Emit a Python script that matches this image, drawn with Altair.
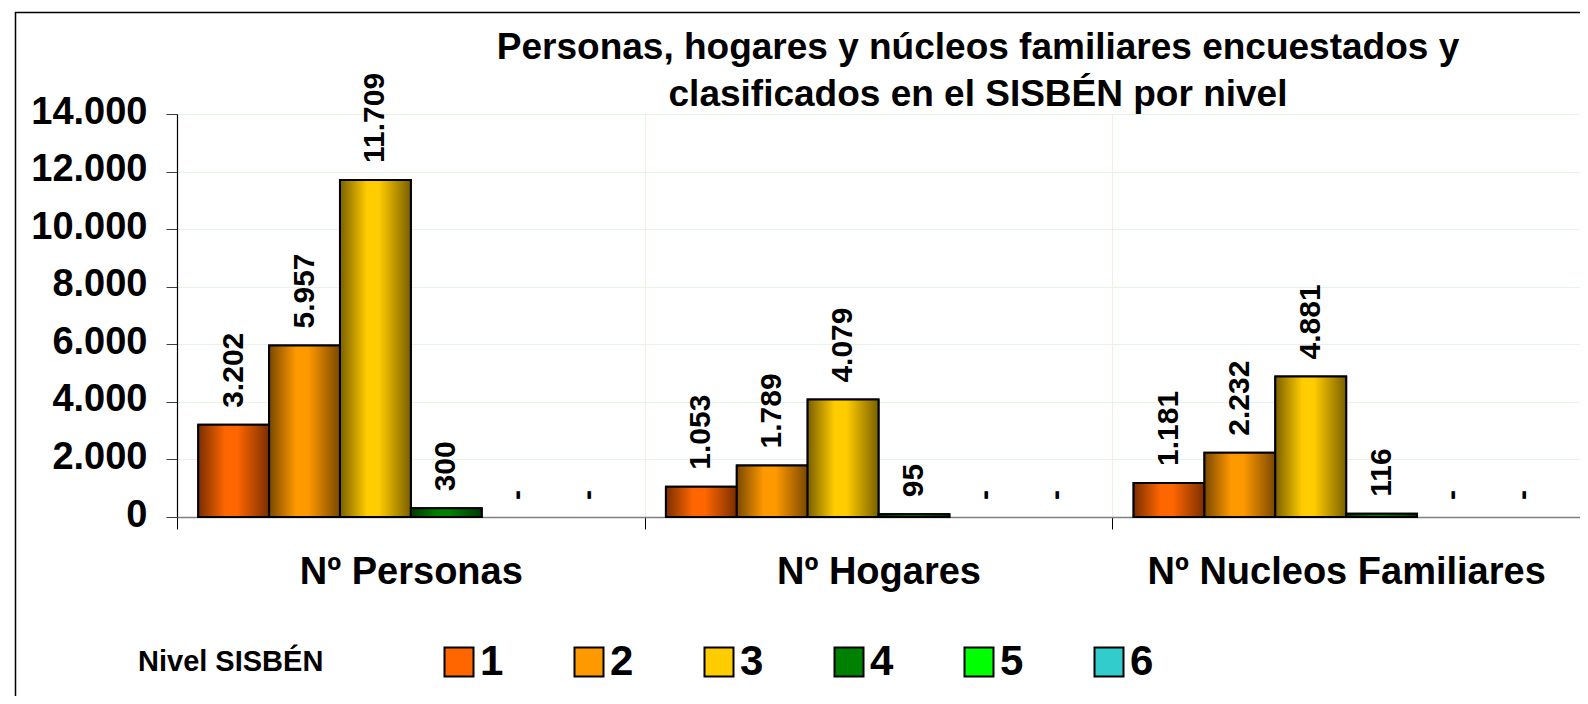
import altair as alt
import pandas as pd

# ---- data ----
categorias = ["Nº Personas", "Nº Hogares", "Nº Nucleos Familiares"]
niveles = ["1", "2", "3", "4", "5", "6"]
personas = [3202, 5957, 11709, 300, 0, 0]
hogares = [1053, 1789, 4079, 95, 0, 0]
nucleos = [1181, 2232, 4881, 116, 0, 0]
y_ticks = [0, 2000, 4000, 6000, 8000, 10000, 12000, 14000]

colores = ["#FF6600", "#FF9900", "#FFCC00", "#008000", "#00FF00", "#33CCCC"]
oscuros = ["#7A2E00", "#7A4800", "#7A6000", "#003A00", "#007A00", "#186060"]

titulo = "Personas, hogares y núcleos familiares encuestados y\nclasificados en el SISBÉN por nivel"

rows = []
for cat, serie in zip(categorias, [personas, hogares, nucleos]):
    for niv, v in zip(niveles, serie):
        rows.append({"categoria": cat, "nivel": niv, "valor": v})
df = pd.DataFrame(rows)

FONT = "Liberation Sans"
W, H = 1403, 403

x_enc = alt.X(
    "categoria:N", sort=categorias,
    scale=alt.Scale(domain=categorias, paddingInner=0, paddingOuter=0),
    axis=alt.Axis(title=None, labelAngle=0, tickBand="extent", labelLimit=0,
                  labelFontSize=38, labelFontWeight="bold", labelColor="black",
                  labelFont=FONT, labelPadding=24, tickSize=12, tickColor="black",
                  domainColor="#808080", domainWidth=1.5,
                  grid=True, gridColor="#E6F4E6", gridWidth=1),
)
xo_enc = alt.XOffset("nivel:N", sort=niveles,
                     scale=alt.Scale(domain=niveles, paddingInner=0, paddingOuter=0.3))
y_enc = alt.Y(
    "valor:Q",
    scale=alt.Scale(domain=[0, 14000], nice=False),
    axis=alt.Axis(title=None, values=y_ticks,
                  labelExpr="replace(format(datum.value, ','), ',', '.')",
                  labelFontSize=38, labelFontWeight="bold", labelColor="black",
                  labelFont=FONT, labelPadding=19, labelOffset=-2,
                  tickSize=11, tickColor="#404040", domainColor="black",
                  domainWidth=1.2, grid=True, gridColor="#E6F4E6", gridWidth=1),
)

base = alt.Chart(df)

solid = base.transform_filter("datum.valor > 0").mark_bar(
    stroke="black", strokeWidth=2, opacity=1
).encode(
    x=x_enc, xOffset=xo_enc, y=y_enc,
    color=alt.Color(
        "nivel:N", sort=niveles,
        scale=alt.Scale(domain=niveles, range=colores),
        legend=alt.Legend(
            title="Nivel SISBÉN", orient="none", legendX=-39, legendY=527,
            direction="horizontal", titleOrient="left", titleLimit=0,
            titleFont=FONT, titleFontSize=29, titleFontWeight="bold",
            titleColor="black", titlePadding=114,
            titleAnchor="middle", titleBaseline="middle",
            labelFont=FONT, labelFontSize=42, labelFontWeight="bold",
            labelColor="black", labelOffset=0,
            symbolType="square", symbolSize=841, symbolStrokeColor="black",
            symbolStrokeWidth=2, symbolOpacity=1, columnPadding=64, padding=0,
        ),
    ),
)

layers = [solid]
for niv, c, d in zip(niveles, colores, oscuros):
    grad = alt.Gradient(
        gradient="linear",
        stops=[alt.GradientStop(color=d, offset=0),
               alt.GradientStop(color=c, offset=0.38),
               alt.GradientStop(color=c, offset=0.55),
               alt.GradientStop(color=d, offset=1)],
        x1=0, x2=1, y1=0, y2=0,
    )
    layers.append(
        base.transform_filter(f"datum.nivel == '{niv}' && datum.valor > 0")
        .mark_bar(fill=grad, stroke="black", strokeWidth=2)
        .encode(x=x_enc, xOffset=xo_enc, y=y_enc)
    )

labels = base.transform_calculate(
    etiqueta="datum.valor == 0 ? '-' : replace(format(datum.valor, ','), ',', '.')"
).mark_text(
    angle=270, align="left", baseline="middle", dx=17,
    font=FONT, fontSize=30, fontWeight="bold", color="black",
).encode(x=x_enc, xOffset=xo_enc, y=y_enc, text="etiqueta:N")
layers.append(labels)

deco = alt.Chart(pd.DataFrame({"t": [titulo]}))

border = deco.mark_rect(
    fillOpacity=0, stroke="black", strokeWidth=1.5
).encode(
    x=alt.value(-161.5), x2=alt.value(W + 200),
    y=alt.value(-101.5), y2=alt.value(H + 400),
)
layers.append(border)

title_mark = deco.mark_text(
    font=FONT, fontSize=37, fontWeight="bold", color="black",
    align="center", baseline="alphabetic", lineBreak="\n", lineHeight=47,
).encode(x=alt.value(801), y=alt.value(-55), text="t:N")
layers.append(title_mark)

chart = alt.layer(*layers).properties(
    width=W, height=H,
    autosize=alt.AutoSizeParams(type="none"),
    padding={"left": 169, "top": 106, "right": 0, "bottom": 179},
).configure(font=FONT).configure_view(stroke=None)

chart.save("out.html", embed_options={"renderer": "svg", "actions": False})
